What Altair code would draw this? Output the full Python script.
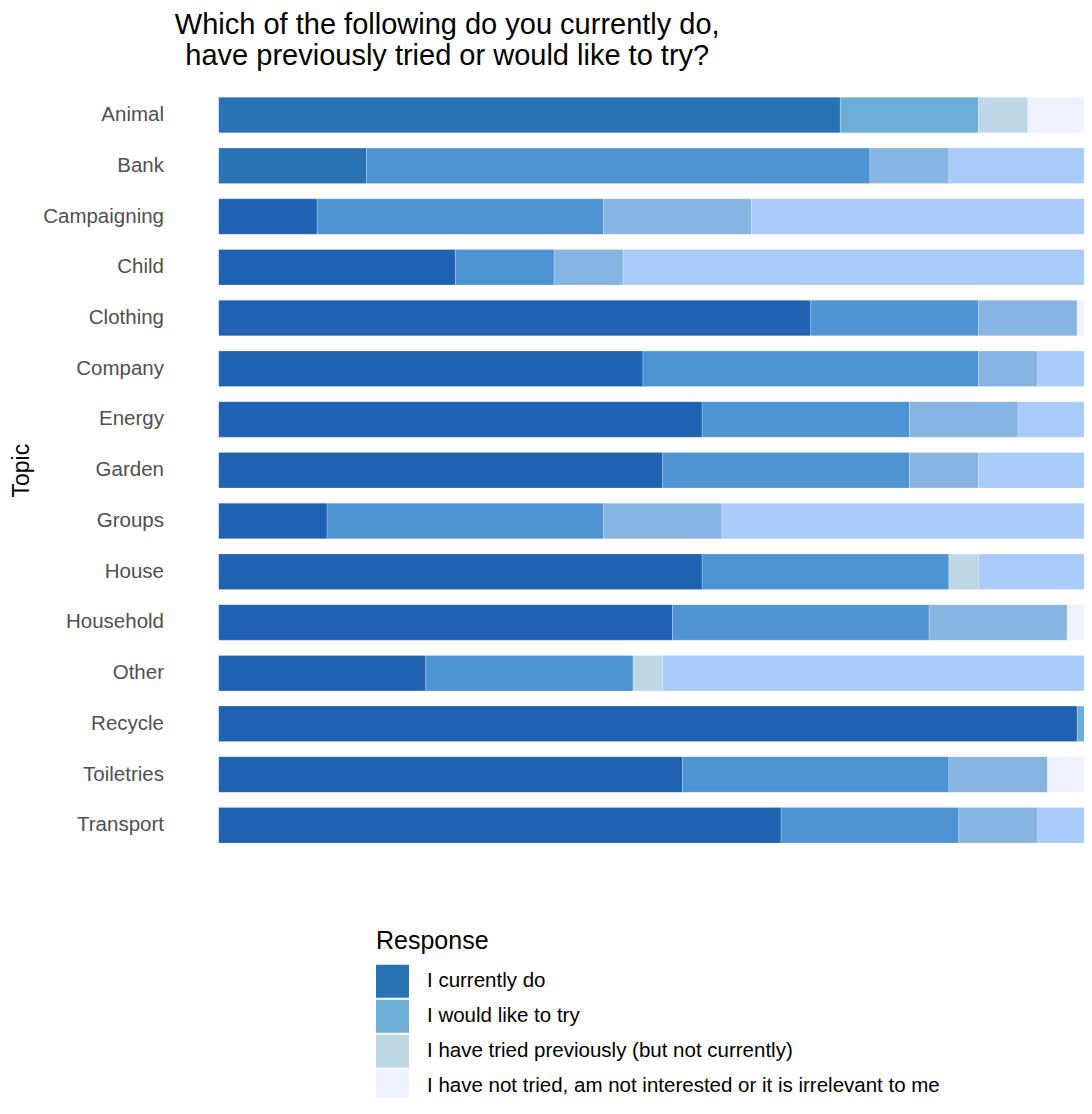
import altair as alt
import pandas as pd

topics = ["Animal", "Bank", "Campaigning", "Child", "Clothing", "Company", "Energy",
          "Garden", "Groups", "House", "Household", "Other", "Recycle", "Toiletries", "Transport"]

# Response categories (stack order) and colours
responses = [
    "I currently do",
    "Currently do",
    "I would like to try",
    "Would like to try",
    "I have tried previously (but not currently)",
    "Tried previously",
    "I have not tried, am not interested or it is irrelevant to me",
    "Not tried / not relevant",
]
colors = ["#2873b4", "#1f62b1", "#6caed5", "#4e94d2", "#bed7e6", "#86b5e3", "#eef2fe", "#a8cbfa"]
legend_shown = responses[0::2]

# counts per topic (same order as topics)
do_a    = [63, 15,  0,  0,  0,  0,  0,  0,  0,  0,  0,  0,  0,  0,  0]
do_b    = [ 0,  0, 10, 24, 60, 43, 49, 45, 11, 49, 46, 21, 87, 47, 57]
like_a  = [14,  0,  0,  0,  0,  0,  0,  0,  0,  0,  0,  0,  1,  0,  0]
like_b  = [ 0, 51, 29, 10, 17, 34, 21, 25, 28, 25, 26, 21,  0, 27, 18]
tried_a = [ 5,  0,  0,  0,  0,  0,  0,  0,  0,  3,  0,  3, 12,  0,  0]
tried_b = [ 0,  8, 15,  7, 10,  6, 11,  7, 12,  0, 14,  0,  0, 10,  8]
not_a   = [18,  0,  0,  0, 13,  0,  0,  0,  0,  0, 14,  0,  0, 16,  0]
not_b   = [ 0, 26, 46, 59,  0, 17, 19, 23, 49, 23,  0, 55,  0,  0, 17]

series = [do_a, do_b, like_a, like_b, tried_a, tried_b, not_a, not_b]

rows = []
for rank, (resp, vals) in enumerate(zip(responses, series)):
    for topic, v in zip(topics, vals):
        if v > 0:
            rows.append({"Topic": topic, "Response": resp, "Count": v, "rank": rank})
df = pd.DataFrame(rows)

FONT = "Liberation Sans"

chart = alt.Chart(df).mark_bar(clip=True, stroke="white", strokeWidth=0.6, strokeOpacity=0.35).encode(
    y=alt.Y("Topic:N", sort=topics,
            scale=alt.Scale(paddingInner=0.3, paddingOuter=0.15),
            axis=alt.Axis(title="Topic", labelFontSize=20.5, labelColor="#505050",
                          labelPadding=55, ticks=False, domain=False,
                          titleFontSize=23, titleFontWeight="normal", titleColor="black",
                          titlePadding=9, labelFont=FONT, titleFont=FONT)),
    x=alt.X("Count:Q", stack="zero", scale=alt.Scale(domain=[0, 87.69], nice=False), axis=None),
    color=alt.Color("Response:N", scale=alt.Scale(domain=responses, range=colors),
                    legend=alt.Legend(title="Response", values=legend_shown, orient="none",
                                      legendX=157.5, legendY=839,
                                      titleFontSize=25, titleFontWeight="normal", titleColor="black",
                                      titleFont=FONT, labelFont=FONT,
                                      labelFontSize=20.5, labelColor="black", labelLimit=1000,
                                      symbolType="square", symbolSize=1089, symbolStrokeWidth=0,
                                      symbolOpacity=1, labelOffset=18, rowPadding=2,
                                      titlePadding=11, padding=0)),
    order=alt.Order("rank:Q"),
).properties(
    width=865.5,
    height=761,
    title=alt.Title(["Which of the following do you currently do,",
                     "have previously tried or would like to try?"],
                    fontSize=29, fontWeight="normal", color="black", font=FONT,
                    anchor="middle", frame="group", dx=-204, offset=19, lineHeight=30.5),
    autosize=alt.AutoSizeParams(type="none"),
    padding={"left": 210.5, "top": 81.7, "right": 0, "bottom": 247.3},
).configure_view(stroke=None)

chart.save("out.html", embed_options={"renderer": "svg", "actions": False})
